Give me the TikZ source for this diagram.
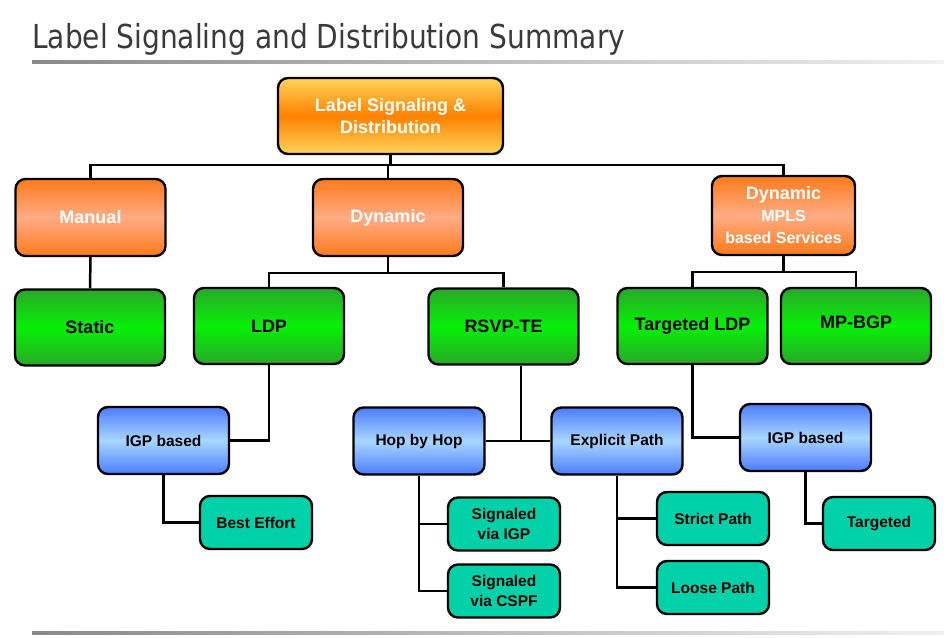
\documentclass[tikz,border=0pt]{standalone}
\usepackage{fontspec}
\setmainfont{Liberation Sans}
\newfontfamily\titlefont[FakeStretch=0.85]{DejaVu Sans}
\usetikzlibrary{positioning}

\definecolor{rootedge}{HTML}{FFD45A}
\definecolor{rootmid}{HTML}{FF8200}
\definecolor{catedge}{HTML}{FF7A1C}
\definecolor{catmid}{HTML}{FFAC84}
\definecolor{protoedge}{HTML}{2AA72A}
\definecolor{protomid}{HTML}{05F205}
\definecolor{modeedge}{HTML}{4C7CFF}
\definecolor{modemid}{HTML}{A8D6FF}
\definecolor{leaffill}{HTML}{00D1A9}
\definecolor{titlegray}{HTML}{3A3A3A}
\definecolor{ruledark}{HTML}{8A8A8A}
\definecolor{rulelight}{HTML}{F0F0F0}

\tikzset{
  box/.style={draw=black, line width=2.4pt, rounded corners=10pt, inner sep=0pt, align=center,
    font=\bfseries\fontsize{18}{22}\selectfont},
  rootbox/.style={box, minimum width=225pt, minimum height=76pt, text=white,
    top color=rootedge, bottom color=rootedge, middle color=rootmid},
  catbox/.style={box, minimum width=150pt, minimum height=77pt, text=white,
    top color=catedge, bottom color=catedge, middle color=catmid},
  protobox/.style={box, minimum width=150pt, minimum height=76pt,
    top color=protoedge, bottom color=protoedge, middle color=protomid},
  modebox/.style={box, minimum width=131pt, minimum height=67pt, font=\bfseries\fontsize{15.5}{19.5}\selectfont,
    top color=modeedge, bottom color=modeedge, middle color=modemid},
  leafbox/.style={box, minimum width=112pt, minimum height=53pt, font=\bfseries\fontsize{15.5}{19.5}\selectfont,
    fill=leaffill},
  link/.style={line width=2.5pt}
}

\begin{document}
\begin{tikzpicture}[x=1pt, y=-1pt]
  \useasboundingbox (0,0) rectangle (944,637);

  % title and rules
  \node[anchor=base west, inner sep=0pt, text=titlegray, font=\titlefont\fontsize{33}{36}\selectfont]
    at (32,48) (title) {Label Signaling and Distribution Summary};
  \shade[left color=ruledark, right color=rulelight] (32,60.5) rectangle (944,63.5);
  \shade[left color=ruledark, right color=rulelight] (32,631.5) rectangle (944,634.5);

  % boxes
  \node[rootbox] at (390.5,116) (root) {Label Signaling \&\\Distribution};
  \node[catbox] at (90.5,217.5) (manual) {Manual};
  \node[catbox] at (388,217.5) (dynamic) {Dynamic};
  \node[catbox, minimum width=143pt, minimum height=79pt] at (783.5,215.5) (dynsvc)
    {Dynamic\\\fontsize{16}{20}\selectfont MPLS\\\fontsize{16}{20}\selectfont based Services};
  \node[protobox] at (90,327.5) (static) {Static};
  \node[protobox] at (269,326) (ldp) {LDP};
  \node[protobox] at (503.5,326.5) (rsvp) {RSVP-TE};
  \node[protobox] at (692.5,326) (tldp) {Targeted LDP};
  \node[protobox] at (856,326) (mpbgp) {\raisebox{8pt}{MP-BGP}};
  \node[modebox] at (163.5,440.5) (igpl) {IGP based};
  \node[modebox] at (419,441) (hbh) {Hop by Hop};
  \node[modebox] at (617,441) (expl) {Explicit Path};
  \node[modebox] at (805.5,437.5) (igpr) {IGP based};
  \node[leafbox] at (256,522.5) (effort) {Best Effort};
  \node[leafbox] at (504,524) (sigigp) {Signaled\\via IGP};
  \node[leafbox] at (504,591) (sigcspf) {Signaled\\via CSPF};
  \node[leafbox] at (713,518.5) (strict) {Strict Path};
  \node[leafbox] at (713,587.5) (loose) {Loose Path};
  \node[leafbox] at (879,523.5) (targeted) {Targeted};

  % connectors
  \coordinate (bustop) at (0,165);
  \coordinate (busdyn) at (0,273);
  \coordinate (bussvc) at (0,272);
  \coordinate (rsvpjoin) at (521,441);
  \draw[link] (root.south) -- (root.south |- bustop);
  \draw[link] (manual.north) |- (dynsvc.north |- bustop) -- (dynsvc.north);
  \draw[link] (dynamic.north) -- (dynamic.north |- bustop);
  \draw[link] (manual.south) -- (static.north);
  \draw[link] (dynamic.south) -- (dynamic.south |- busdyn);
  \draw[link] (ldp.north) |- (rsvp.north |- busdyn) -- (rsvp.north);
  \draw[link] (dynsvc.south) -- (dynsvc.south |- bussvc);
  \draw[link] (tldp.north) |- (mpbgp.north |- bussvc) -- (mpbgp.north);
  \draw[link] (ldp.south) |- (igpl.east);
  \draw[link] (igpl.south) |- (effort.west);
  \draw[link] (rsvp.south -| rsvpjoin) -- (rsvpjoin);
  \draw[link] (hbh.east) -- (expl.west);
  \draw[link] (hbh.south) |- (sigcspf.west);
  \draw[link] (hbh.south |- sigigp.west) -- (sigigp.west);
  \draw[link] (expl.south) |- (loose.west);
  \draw[link] (expl.south |- strict.west) -- (strict.west);
  \draw[link] (tldp.south) |- (igpr.west);
  \draw[link] (igpr.south) |- (targeted.west);
\end{tikzpicture}
\end{document}
